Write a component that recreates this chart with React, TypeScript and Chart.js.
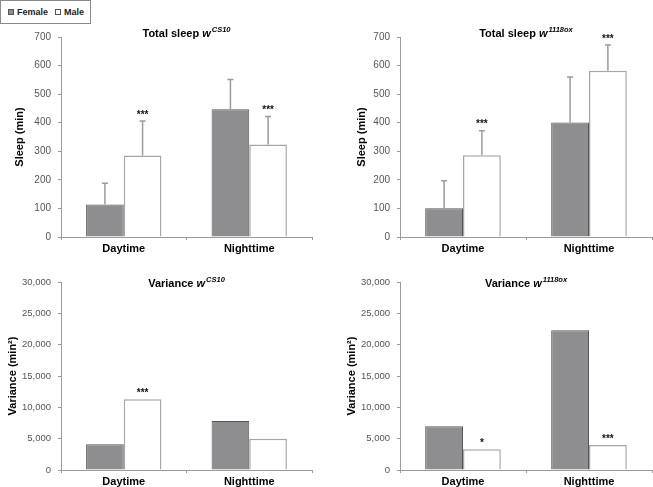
import React, { useEffect, useRef } from "react";
import { Chart, registerables } from "chart.js";

Chart.register(...registerables);

const FONT = "'Liberation Sans', Arial, sans-serif";

// ---- data ----
const categories = ["Daytime", "Nighttime"];

const sleepCS10Female = [114, 447];
const sleepCS10FemaleErr = [74, 104];
const sleepCS10Male = [285, 324];
const sleepCS10MaleErr = [121, 98];
const sleepCS10Sig = ["***", "***"];

const sleep1118Female = [101, 401];
const sleep1118FemaleErr = [96, 159];
const sleep1118Male = [286, 582];
const sleep1118MaleErr = [86, 90];
const sleep1118Sig = ["***", "***"];

const varCS10Female = [4100, 7800];
const varCS10Male = [11300, 5000];
const varCS10Sig = ["***", ""];

const var1118Female = [7000, 22300];
const var1118Male = [3300, 4000];
const var1118Sig = ["*", "***"];

const sleepTicks = { max: 700, step: 100 };
const varianceTicks = { max: 30000, step: 5000 };

const FEMALE_FILL = "#8e8e91";
const FEMALE_BORDER = "#555555";
const MALE_FILL = "#ffffff";
const MALE_BORDER = "#a6a6a6";
const AXIS = "#9a9a9a";

type Panel = {
  left: number; top: number; width: number; height: number;
  female: number[]; male: number[]; femaleErr?: number[]; maleErr?: number[]; sig: string[];
  yMax: number; yStep: number; tickSize: number; yTitle: string; yTitlePad: number; yWidth: number;
  padTop: number; padRight: number; xHeight: number;
  titleMain: string; titleSup: string; titleDy: number;
};

const panels: Panel[] = [
  {
    left: 0, top: 20, width: 330, height: 240,
    female: sleepCS10Female, male: sleepCS10Male, femaleErr: sleepCS10FemaleErr, maleErr: sleepCS10MaleErr, sig: sleepCS10Sig,
    yMax: sleepTicks.max, yStep: sleepTicks.step, tickSize: 10, yTitle: "Sleep (min)", yTitlePad: 13, yWidth: 61,
    padTop: 17, padRight: 18, xHeight: 23, titleMain: "Total sleep ", titleSup: "CS10", titleDy: -3,
  },
  {
    left: 330, top: 20, width: 323, height: 240,
    female: sleep1118Female, male: sleep1118Male, femaleErr: sleep1118FemaleErr, maleErr: sleep1118MaleErr, sig: sleep1118Sig,
    yMax: sleepTicks.max, yStep: sleepTicks.step, tickSize: 10, yTitle: "Sleep (min)", yTitlePad: 25, yWidth: 70,
    padTop: 17, padRight: 1, xHeight: 23, titleMain: "Total sleep ", titleSup: "1118ox", titleDy: -3,
  },
  {
    left: 0, top: 260, width: 330, height: 227,
    female: varCS10Female, male: varCS10Male, sig: varCS10Sig,
    yMax: varianceTicks.max, yStep: varianceTicks.step, tickSize: 9.5, yTitle: "Variance (min\u00B2)", yTitlePad: 6, yWidth: 61,
    padTop: 22, padRight: 18, xHeight: 17, titleMain: "Variance ", titleSup: "CS10", titleDy: 2,
  },
  {
    left: 330, top: 260, width: 323, height: 227,
    female: var1118Female, male: var1118Male, sig: var1118Sig,
    yMax: varianceTicks.max, yStep: varianceTicks.step, tickSize: 9.5, yTitle: "Variance (min\u00B2)", yTitlePad: 15, yWidth: 70,
    padTop: 22, padRight: 1, xHeight: 17, titleMain: "Variance ", titleSup: "1118ox", titleDy: 2,
  },
];

function makeTitlePlugin(main: string, sup: string, dy: number) {
  return {
    id: "panelTitle",
    afterDraw(chart: any) {
      const ctx = chart.ctx;
      const a = chart.chartArea;
      const f1 = `bold 11px ${FONT}`;
      const f2 = `italic bold 11px ${FONT}`;
      const f3 = `italic bold 7.5px ${FONT}`;
      ctx.save();
      ctx.textBaseline = "middle";
      ctx.textAlign = "left";
      ctx.fillStyle = "#000";
      ctx.font = f1; const w1 = ctx.measureText(main).width;
      ctx.font = f2; const w2 = ctx.measureText("w").width;
      ctx.font = f3; const w3 = ctx.measureText(sup).width;
      const total = w1 + w2 + 1 + w3;
      let x = (a.left + a.right) / 2 - total / 2;
      const y = a.top + dy;
      ctx.font = f1; ctx.fillText(main, x, y); x += w1;
      ctx.font = f2; ctx.fillText("w", x, y); x += w2 + 1;
      ctx.font = f3; ctx.fillText(sup, x, y - 4);
      ctx.restore();
    },
  };
}

const errorPlugin = {
  id: "errorBars",
  afterDatasetsDraw(chart: any) {
    const ctx = chart.ctx;
    const yScale = chart.scales.y;
    chart.data.datasets.forEach((ds: any, di: number) => {
      const meta = chart.getDatasetMeta(di);
      meta.data.forEach((bar: any, i: number) => {
        const v = ds.data[i];
        let topVal = v;
        if (ds.errors) {
          topVal = v + ds.errors[i];
          const yTop = yScale.getPixelForValue(topVal);
          ctx.save();
          ctx.strokeStyle = "#9c9c9c";
          ctx.lineWidth = 1.5;
          ctx.beginPath();
          ctx.moveTo(bar.x, bar.y);
          ctx.lineTo(bar.x, yTop);
          ctx.moveTo(bar.x - 3, yTop);
          ctx.lineTo(bar.x + 3, yTop);
          ctx.stroke();
          ctx.restore();
        }
        if (ds.sig && ds.sig[i]) {
          const yTop = yScale.getPixelForValue(topVal);
          ctx.save();
          ctx.fillStyle = "#111";
          ctx.font = `bold 10px ${FONT}`;
          ctx.textAlign = "center";
          ctx.textBaseline = "middle";
          ctx.fillText(ds.sig[i], bar.x, yTop - 6);
          ctx.restore();
        }
      });
    });
  },
};

function PanelChart({ p }: { p: Panel }) {
  const ref = useRef<HTMLCanvasElement>(null);
  useEffect(() => {
    if (!ref.current) return;
    const chart = new Chart(ref.current, {
      type: "bar",
      data: {
        labels: categories,
        datasets: [
          {
            label: "Female",
            data: p.female,
            backgroundColor: FEMALE_FILL,
            borderColor: FEMALE_BORDER,
            borderWidth: 1,
            categoryPercentage: 0.6,
            barPercentage: 1.0,
            errors: p.femaleErr,
          } as any,
          {
            label: "Male",
            data: p.male,
            backgroundColor: MALE_FILL,
            borderColor: MALE_BORDER,
            borderWidth: 1.5,
            categoryPercentage: 0.6,
            barPercentage: 1.0,
            errors: p.maleErr,
            sig: p.sig,
          } as any,
        ],
      },
      options: {
        responsive: false,
        animation: false,
        layout: { padding: { top: p.padTop, right: p.padRight, left: 0, bottom: 0 } },
        plugins: { legend: { display: false }, tooltip: { enabled: false }, title: { display: false } },
        scales: {
          x: {
            grid: { display: true, drawOnChartArea: false, drawTicks: true, tickLength: 3, color: AXIS, offset: true },
            border: { color: AXIS, width: 1 },
            ticks: { color: "#000", padding: 2, font: { family: FONT, size: 11, weight: "bold" } },
            afterFit: (s: any) => { s.height = p.xHeight; },
          },
          y: {
            min: 0,
            max: p.yMax,
            grid: { display: true, drawOnChartArea: false, drawTicks: true, tickLength: 3, color: AXIS },
            border: { color: AXIS, width: 1 },
            ticks: {
              stepSize: p.yStep,
              color: "#555",
              padding: 7,
              font: { family: FONT, size: p.tickSize },
              callback: (v: any) => Number(v).toLocaleString("en-US"),
            },
            title: {
              display: true,
              text: p.yTitle,
              color: "#000",
              font: { family: FONT, size: 11, weight: "bold" },
              padding: { top: p.yTitlePad, bottom: 0 },
            },
            afterFit: (s: any) => { s.width = p.yWidth; },
          },
        },
      },
      plugins: [errorPlugin, makeTitlePlugin(p.titleMain, p.titleSup, p.titleDy)],
    } as any);
    return () => chart.destroy();
  }, [p]);
  return (
    <canvas
      ref={ref}
      width={p.width}
      height={p.height}
      style={{ position: "absolute", left: p.left, top: p.top, width: p.width, height: p.height }}
    />
  );
}

export default function App() {
  const sq = (fill: string, border: string) => (
    <span style={{ display: "inline-block", width: 4, height: 4, background: fill, border: `1px solid ${border}`, marginRight: 3 }} />
  );
  return (
    <div style={{ position: "absolute", left: 0, top: 0, width: 653, height: 487, background: "#fff", overflow: "hidden" }}>
      <div
        style={{
          position: "absolute", left: 0, top: 0, width: 91, height: 24, boxSizing: "border-box",
          border: "1px solid #8a8a8a", display: "flex", alignItems: "center", paddingLeft: 7,
          fontFamily: FONT, fontWeight: "bold", fontSize: 9, color: "#222", whiteSpace: "nowrap",
        }}
      >
        {sq(FEMALE_FILL, "#555")}
        <span style={{ marginRight: 7 }}>Female</span>
        {sq("#fff", "#555")}
        <span>Male</span>
      </div>
      {panels.map((p, i) => (
        <PanelChart key={i} p={p} />
      ))}
    </div>
  );
}
